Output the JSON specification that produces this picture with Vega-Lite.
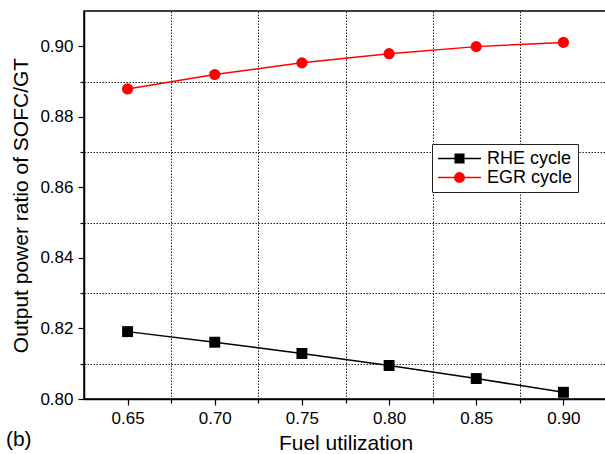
{
  "$schema": "https://vega.github.io/schema/vega-lite/v6.json",
  "width": 523,
  "height": 388,
  "autosize": "none",
  "padding": {"left": 84, "top": 11, "right": 0, "bottom": 55},
  "background": "white",
  "title": {"text": "(b)", "orient": "bottom", "anchor": "start", "frame": "bounds", "fontSize": 21, "font": "Liberation Sans", "fontWeight": "normal", "color": "black", "offset": -24, "dx": -5},
  "config": {
    "font": "Liberation Sans",
    "view": {"stroke": "black", "strokeWidth": 1.5},
    "axis": {
      "domainColor": "black", "domainWidth": 1.5,
      "tickColor": "black", "tickWidth": 1.2,
      "labelColor": "black", "labelFontSize": 17, "labelFont": "Liberation Sans",
      "titleColor": "black", "titleFontSize": 21, "titleFont": "Liberation Sans", "titleFontWeight": "normal",
      "gridColor": "#222", "gridDash": [1.5, 1.5], "gridWidth": 1
    }
  },
  "data": {
    "values": [
      {"fu": 0.65, "ratio": 0.8191, "series": "RHE cycle"},
      {"fu": 0.70, "ratio": 0.8161, "series": "RHE cycle"},
      {"fu": 0.75, "ratio": 0.8129, "series": "RHE cycle"},
      {"fu": 0.80, "ratio": 0.8095, "series": "RHE cycle"},
      {"fu": 0.85, "ratio": 0.8058, "series": "RHE cycle"},
      {"fu": 0.90, "ratio": 0.8019, "series": "RHE cycle"},
      {"fu": 0.65, "ratio": 0.8879, "series": "EGR cycle"},
      {"fu": 0.70, "ratio": 0.8920, "series": "EGR cycle"},
      {"fu": 0.75, "ratio": 0.8953, "series": "EGR cycle"},
      {"fu": 0.80, "ratio": 0.8979, "series": "EGR cycle"},
      {"fu": 0.85, "ratio": 0.8999, "series": "EGR cycle"},
      {"fu": 0.90, "ratio": 0.9011, "series": "EGR cycle"}
    ]
  },
  "encoding": {
    "x": {
      "field": "fu", "type": "quantitative",
      "scale": {"domain": [0.625, 0.925], "nice": false, "zero": false},
      "axis": {
        "title": "Fuel utilization",
        "values": [0.65, 0.675, 0.70, 0.725, 0.75, 0.775, 0.80, 0.825, 0.85, 0.875, 0.90],
        "labelExpr": "round(datum.value*1000)%50==0 ? format(datum.value,'.2f') : ''",
        "grid": true,
        "gridOpacity": {"condition": {"test": "round(datum.value*1000)%50==25", "value": 1}, "value": 0},
        "tickSize": {"condition": {"test": "round(datum.value*1000)%50==25", "value": 4}, "value": 6},
        "labelPadding": 5,
        "titlePadding": 6
      }
    },
    "y": {
      "field": "ratio", "type": "quantitative",
      "scale": {"domain": [0.80, 0.91], "nice": false, "zero": false},
      "axis": {
        "title": "Output power ratio of SOFC/GT",
        "values": [0.80, 0.81, 0.82, 0.83, 0.84, 0.85, 0.86, 0.87, 0.88, 0.89, 0.90],
        "labelExpr": "round(datum.value*100)%2==0 ? format(datum.value,'.2f') : ''",
        "grid": true,
        "gridOpacity": {"condition": {"test": "round(datum.value*100)%2==1", "value": 1}, "value": 0},
        "tickSize": {"condition": {"test": "round(datum.value*100)%2==1", "value": 4}, "value": 6},
        "labelPadding": 5,
        "titlePadding": 8
      }
    }
  },
  "layer": [
    {
      "mark": {"type": "line", "strokeWidth": 0, "point": {"filled": true, "size": 0, "opacity": 1}},
      "encoding": {
        "color": {
          "field": "series", "type": "nominal",
          "scale": {"domain": ["RHE cycle", "EGR cycle"], "range": ["black", "#ff0000"]},
          "legend": {
            "title": null, "orient": "none", "legendX": 348, "legendY": 133,
            "strokeColor": "#222", "fillColor": "white", "padding": 5,
            "labelFontSize": 18, "labelColor": "black", "labelFont": "Liberation Sans",
            "symbolSize": 1849, "symbolStrokeWidth": 1.5, "rowPadding": 0, "labelOffset": 5,
            "clipHeight": 19
          }
        },
        "shape": {
          "field": "series", "type": "nominal",
          "scale": {"domain": ["RHE cycle", "EGR cycle"], "range": ["M-1,0H-0.2M0.2,0H1M-0.2,-0.2H0.2V0.2H-0.2Z", "M-1,0H-0.22M0.22,0H1M-0.22,0A0.22,0.22,0,1,1,0.22,0A0.22,0.22,0,1,1,-0.22,0Z"]}
        }
      }
    },
    {
      "mark": {"type": "line", "strokeWidth": 1.5},
      "encoding": {"color": {"field": "series", "type": "nominal"}}
    },
    {
      "transform": [{"filter": "datum.series === 'RHE cycle'"}],
      "mark": {"type": "point", "shape": "square", "filled": true, "size": 120, "opacity": 1},
      "encoding": {"color": {"field": "series", "type": "nominal"}}
    },
    {
      "transform": [{"filter": "datum.series === 'EGR cycle'"}],
      "mark": {"type": "point", "shape": "circle", "filled": true, "size": 125, "opacity": 1},
      "encoding": {"color": {"field": "series", "type": "nominal"}}
    }
  ]
}
